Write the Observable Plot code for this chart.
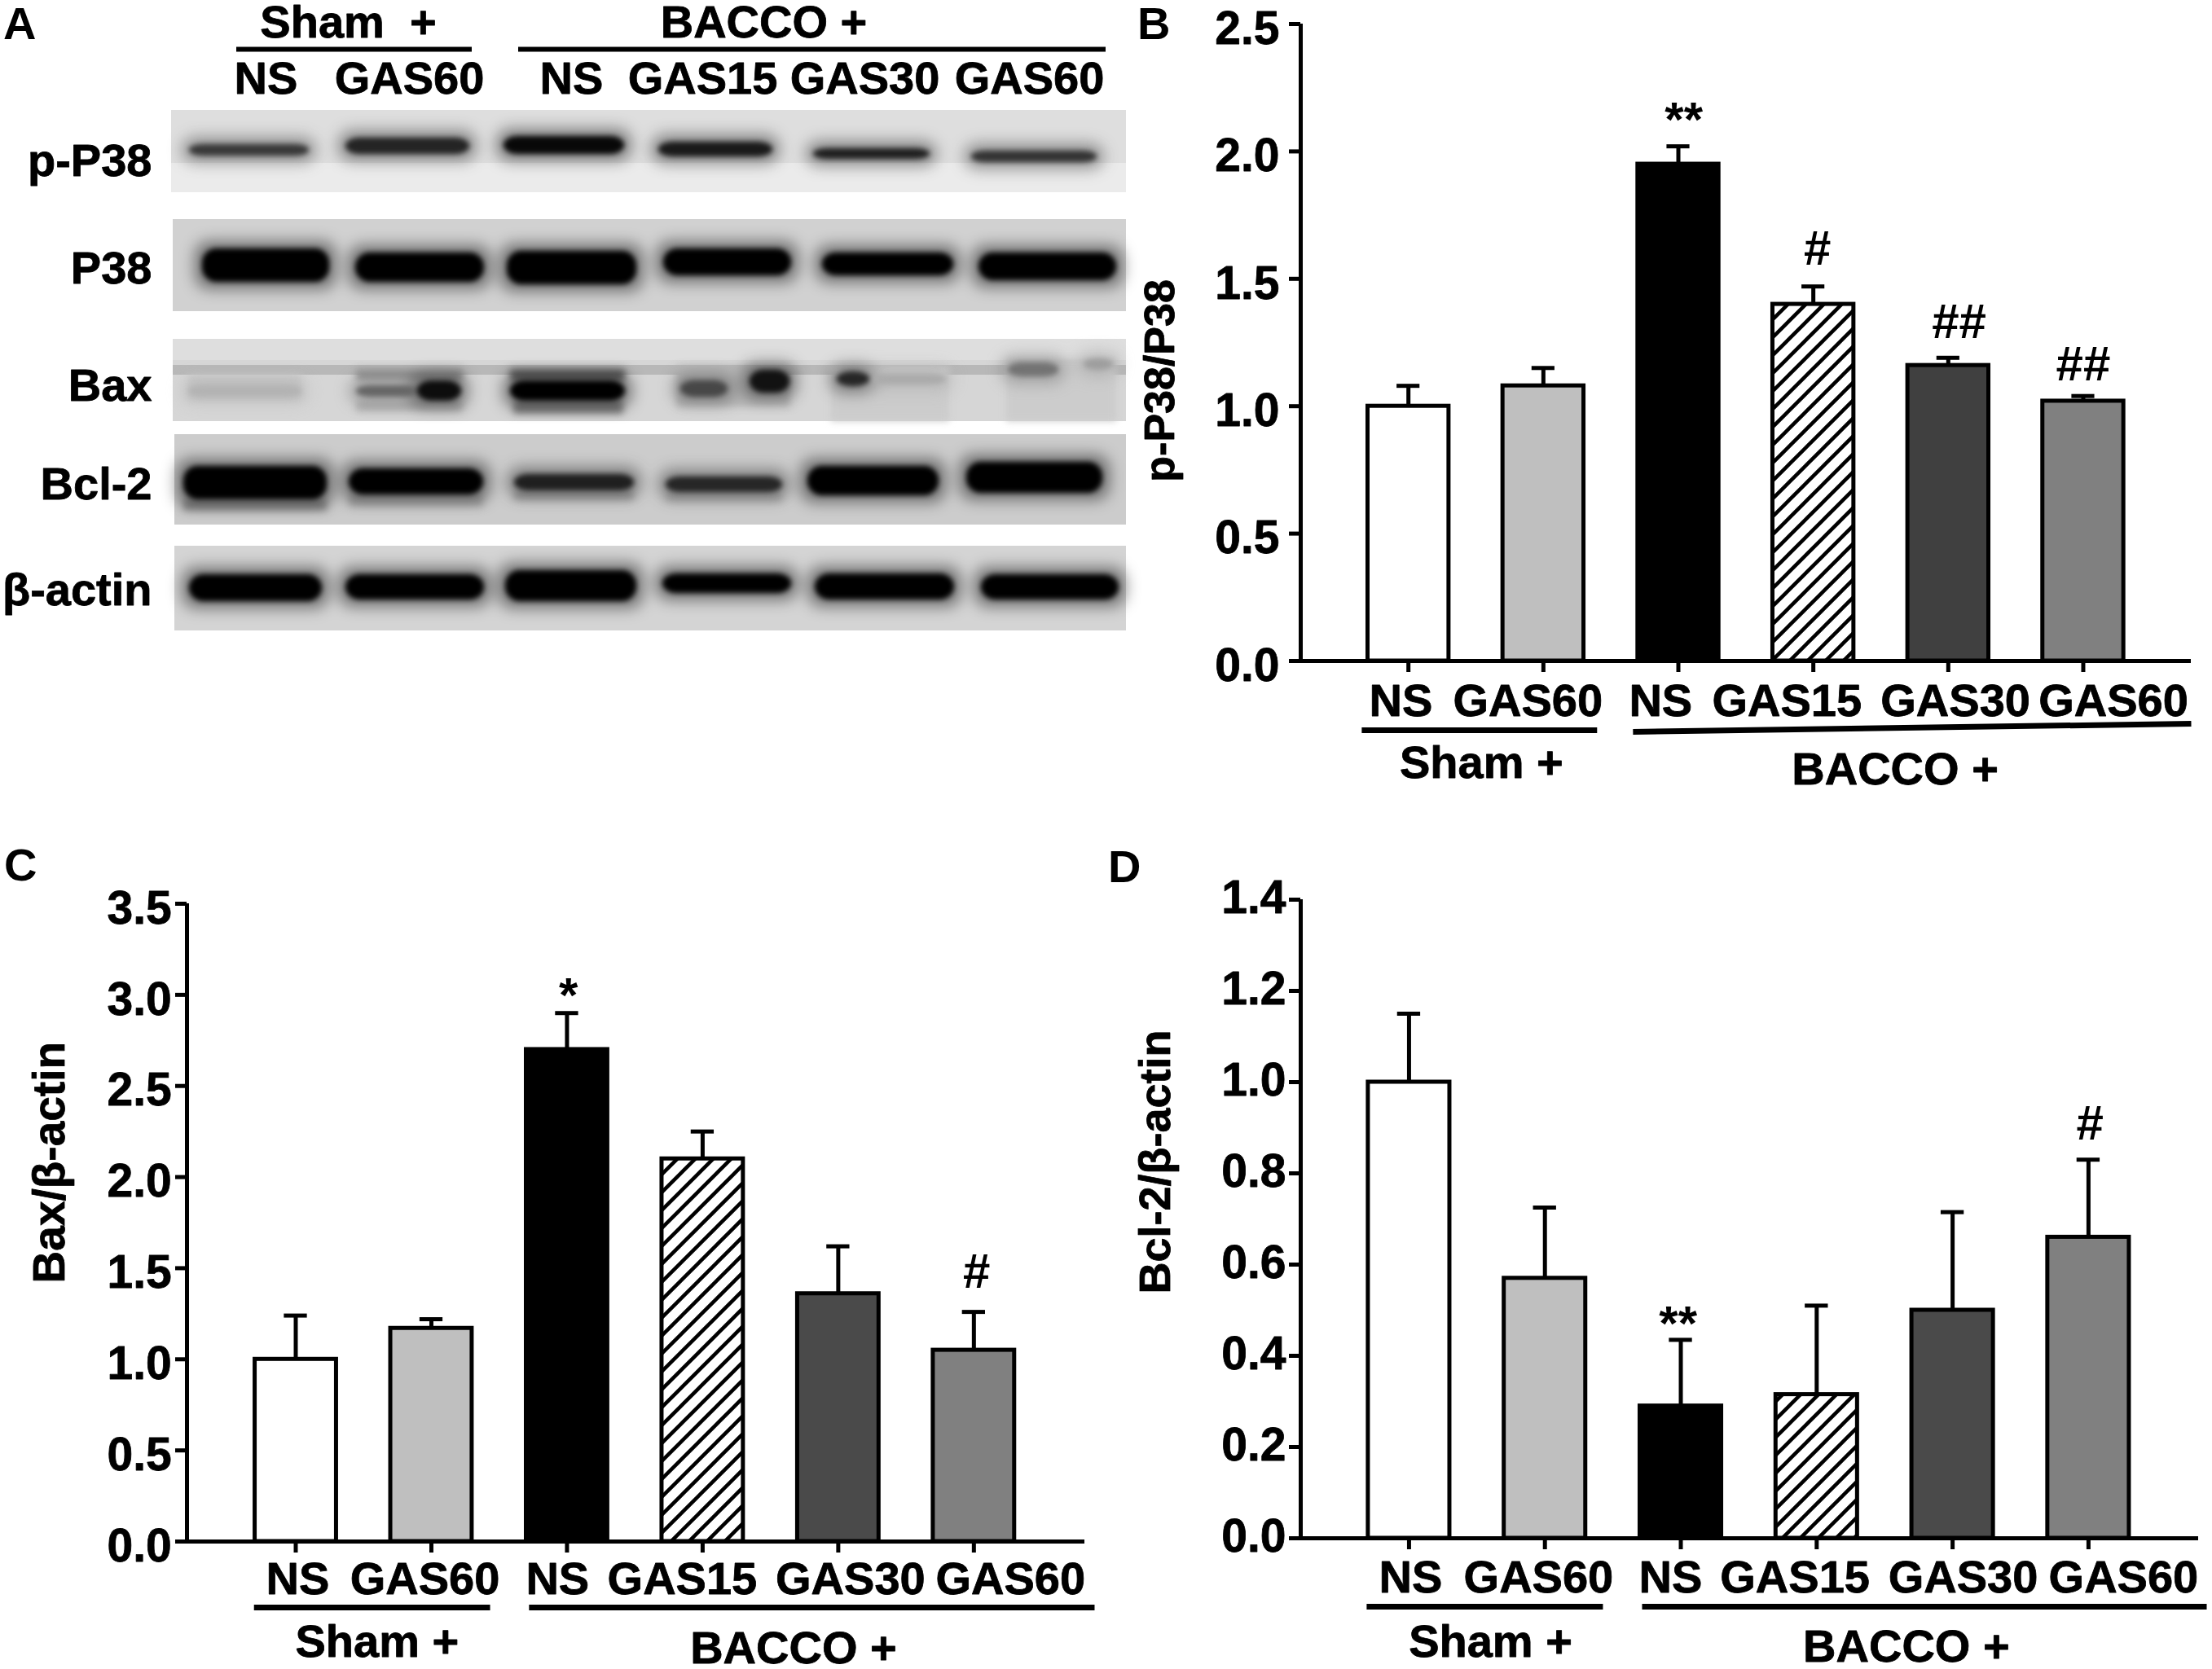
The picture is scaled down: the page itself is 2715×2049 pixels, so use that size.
<!DOCTYPE html>
<html>
<head>
<meta charset="utf-8">
<script src="https://cdn.jsdelivr.net/npm/d3@7"></script>
<script src="https://cdn.jsdelivr.net/npm/@observablehq/plot@0.6"></script>
<style>
  body { margin: 0; background: white; width: 2715px; height: 2049px; position: relative; overflow: hidden; }
  .panel { position: absolute; }
  .letter { position: absolute; font: bold 56px "Liberation Sans"; color: black; line-height: 1; }
</style>
</head>
<body>
<svg width="0" height="0" style="position:absolute">
  <defs>
    <pattern id="hatch" patternUnits="userSpaceOnUse" width="22" height="22">
      <rect width="22" height="22" fill="white"></rect>
      <path d="M-3,3 L3,-3 M0,22 L22,0 M19,25 L25,19" stroke="black" stroke-width="4.5"></path>
    </pattern>
  </defs>
</svg>
<div id="chart"></div>
<script>
// bar groups, same order in panels B, C and D
const treatments = ["NS", "GAS60", "NS", "GAS15", "GAS30", "GAS60"];
const positions = [0, 1, 2, 3, 4, 5];

const pP38Means = [1.0, 1.08, 1.95, 1.40, 1.16, 1.02];
const pP38Tops = [1.08, 1.15, 2.02, 1.47, 1.19, 1.04];
const pP38Ticks = [0, 0.5, 1, 1.5, 2, 2.5];

const baxMeans = [1.0, 1.17, 2.70, 2.10, 1.36, 1.05];
const baxTops = [1.24, 1.22, 2.90, 2.25, 1.62, 1.26];
const baxTicks = [0, 0.5, 1, 1.5, 2, 2.5, 3, 3.5];

const bcl2Means = [1.0, 0.57, 0.29, 0.315, 0.50, 0.66];
const bcl2Tops = [1.15, 0.725, 0.435, 0.51, 0.715, 0.83];
const bcl2Ticks = [0, 0.2, 0.4, 0.6, 0.8, 1, 1.2, 1.4];

// blot bands: left, right, top, bottom on the gel, darkness 0-1
const pP38Bands = [
  [232, 379, 177, 191, 0.78], [424, 576, 169, 189, 0.86], [618, 766, 167, 189, 0.97],
  [808, 948, 174, 192, 0.9], [998, 1141, 182, 195, 0.88], [1192, 1346, 185, 199, 0.8]
];
const p38Bands = [
  [248, 404, 305, 346, 1], [436, 594, 310, 346, 1], [622, 781, 308, 349, 1],
  [814, 971, 305, 338, 1], [1009, 1170, 310, 338, 1], [1201, 1370, 310, 344, 1]
];
const baxBands = [
  [231, 370, 473, 487, 0.3], [437, 512, 473, 487, 0.6], [512, 566, 467, 492, 0.95],
  [626, 767, 467, 492, 1], [835, 893, 467, 487, 0.72], [920, 969, 454, 482, 0.93],
  [1027, 1067, 456, 474, 0.85], [1071, 1161, 459, 472, 0.33],
  [1237, 1299, 445, 462, 0.55], [1330, 1366, 440, 454, 0.38]
];
const bcl2Bands = [
  [225, 401, 572, 613, 1], [428, 593, 575, 607, 1], [631, 778, 582, 602, 0.88],
  [817, 960, 585, 604, 0.85], [991, 1152, 572, 608, 1], [1186, 1353, 567, 605, 1]
];
const actinBands = [
  [232, 395, 705, 738, 1], [424, 594, 705, 736, 1], [620, 781, 700, 738, 1],
  [813, 971, 704, 728, 1], [1000, 1171, 704, 736, 1], [1204, 1373, 705, 736, 1]
];
// fainter smears around the Bax and Bcl-2 lanes
const blotSmears = [
  [231, 370, 460, 492, 0.22], [437, 568, 453, 467, 0.42], [437, 568, 492, 505, 0.3],
  [626, 767, 453, 467, 0.6], [630, 765, 492, 508, 0.48], [830, 970, 450, 500, 0.28],
  [1020, 1165, 450, 517, 0.2], [1235, 1370, 440, 517, 0.2],
  [225, 401, 613, 627, 0.42], [428, 593, 607, 622, 0.32], [631, 778, 602, 614, 0.35], [817, 960, 604, 616, 0.3]
];
// gel strips: left, right, top, bottom, background darkness
const blotStrips = [
  [210, 1382, 135, 200, 0.13], [210, 1382, 200, 236, 0.08], [212, 1382, 269, 382, 0.18],
  [212, 1382, 416, 442, 0.13], [212, 1382, 442, 517, 0.16], [212, 1382, 448, 460, 0.28],
  [214, 1382, 533, 644, 0.2], [214, 1382, 670, 774, 0.17]
];
const blotNames = ["p-P38", "P38", "Bax", "Bcl-2", "β-actin"];
const blotNameY = [198, 330, 474, 595, 725];

const font = "Liberation Sans";
const barFills = ["white", "#bfbfbf", "black", "url(#hatch)", "#404040", "#808080"];

function asBand(b) {
  return {x1: b[0], x2: b[1], y1: b[2], y2: b[3], dark: b[4]};
}

function drawBlot() {
  const bands = [...pP38Bands, ...p38Bands, ...baxBands, ...bcl2Bands, ...actinBands].map(asBand);
  const names = blotNames.map((t, i) => ({t, y: blotNameY[i]}));
  const lanes = [
    {t: "NS", x: 326}, {t: "GAS60", x: 502}, {t: "NS", x: 701},
    {t: "GAS15", x: 862}, {t: "GAS30", x: 1061}, {t: "GAS60", x: 1263}
  ];
  const heads = [{t: "Sham  +", x: 427, y: 28}, {t: "BACCO +", x: 937, y: 28}];
  const lines = [{x1: 290, x2: 579}, {x1: 636, x2: 1357}];
  const bold = {fontSize: 56, fontWeight: "bold", stroke: "black", strokeWidth: 0.8, fill: "black"};
  return Plot.plot({
    width: 1400,
    height: 800,
    margin: 0,
    style: {background: "transparent", overflow: "visible", fontFamily: font},
    x: {domain: [0, 1400], range: [0, 1400], axis: null},
    y: {domain: [0, 800], range: [0, 800], axis: null},
    color: {type: "linear", domain: [0, 1], range: ["#ffffff", "#000000"]},
    marks: [
      Plot.rect(blotStrips.map(asBand), {x1: "x1", x2: "x2", y1: "y1", y2: "y2", fill: "dark"}),
      Plot.rect(blotSmears.map(asBand), {x1: "x1", x2: "x2", y1: "y1", y2: "y2", fill: "dark",
        imageFilter: "blur(4px)"}),
      Plot.rect(bands, {x1: "x1", x2: "x2", y1: "y1", y2: "y2", fill: "dark", rx: 18,
        inset: -9, fillOpacity: 0.45, imageFilter: "blur(9px)"}),
      Plot.rect(bands, {x1: "x1", x2: "x2", y1: "y1", y2: "y2", fill: "dark", rx: 18,
        imageFilter: "blur(3px)"}),
      Plot.text(names, {x: () => 186, y: "y", text: "t", textAnchor: "end", ...bold}),
      Plot.text(lanes, {x: "x", y: () => 97, text: "t", ...bold}),
      Plot.text(heads, {x: "x", y: "y", text: "t", ...bold}),
      Plot.ruleY(lines, {x1: "x1", x2: "x2", y: () => 60, strokeWidth: 6, stroke: "black"})
    ]
  });
}

function drawBars(p) {
  const bars = positions.map(i => ({
    pos: i,
    label: treatments[i],
    mean: p.means[i],
    top: p.tops[i],
    fill: barFills[i] === "#404040" ? p.darkBar : barFills[i]
  }));
  const bold = {fontSize: 56, fontWeight: "bold", fill: "black", stroke: "black", strokeWidth: 0.8};
  return Plot.plot({
    width: p.width,
    height: p.height,
    marginLeft: p.marginLeft,
    marginRight: p.marginRight,
    marginTop: p.marginTop,
    marginBottom: p.marginBottom,
    style: {background: "transparent", overflow: "visible", fontFamily: font},
    x: {domain: p.xDomain, axis: null},
    y: {domain: p.yDomain, axis: null},
    color: {type: "identity"},
    marks: [
      Plot.ruleX(bars, {x: "pos", y1: "mean", y2: "top", strokeWidth: 5, stroke: "black"}),
      Plot.ruleY(bars, {y: "top", x1: d => d.pos - 0.085, x2: d => d.pos + 0.085, strokeWidth: 5, stroke: "black"}),
      Plot.rect(bars, {x1: d => d.pos - 0.3, x2: d => d.pos + 0.3, y1: () => 0, y2: "mean",
        fill: "fill", stroke: "black", strokeWidth: 5}),
      Plot.ruleX([p.xDomain[0]], {strokeWidth: 5, stroke: "black"}),
      Plot.ruleY([0], {strokeWidth: 5, stroke: "black"}),
      Plot.axisY(p.ticks, {anchor: "left", tickSize: 14, strokeWidth: 5, stroke: "black",
        tickFormat: () => "", label: null}),
      Plot.axisX(positions, {anchor: "bottom", tickSize: 14, strokeWidth: 5, stroke: "black",
        tickFormat: () => "", label: null}),
      Plot.text(p.ticks, {x: () => p.tickLabelX, y: d => d, text: d => d.toFixed(1), textAnchor: "end",
        dy: p.tickDy, ...bold, fontSize: 57}),
      Plot.text(bars, {x: (d, i) => p.labelX[i], y: () => p.labelY, text: "label", ...bold}),
      Plot.link(p.lines, {x1: "x1", x2: "x2", y1: "y1", y2: "y2", strokeWidth: 7, stroke: "black"}),
      Plot.text(p.heads, {x: "x", y: "y", text: "t", ...bold}),
      Plot.text(p.marks, {x: "x", y: "y", text: "t", fontSize: 60, fill: "black", fontWeight: "bold"}),
      Plot.text(p.title, {x: "x", y: "y", text: "t", rotate: -90, ...bold, fontSize: p.titleSize})
    ]
  });
}

const panels = [
  {
    left: 1380, top: 0, width: 1335, height: 1000,
    marginLeft: 216, marginRight: 26, marginTop: 29, marginBottom: 189,
    xDomain: [-0.798, 5.80], yDomain: [0, 2.5], darkBar: "#404040",
    means: pP38Means, tops: pP38Tops, ticks: pP38Ticks, tickLabelX: -0.955, tickDy: 6,
    labelX: [-0.056, 0.885, 1.869, 2.804, 4.053, 5.224], labelY: -0.157,
    lines: [{x1: -0.346, x2: 1.398, y1: -0.272, y2: -0.272}, {x1: 1.664, x2: 5.80, y1: -0.278, y2: -0.246}],
    heads: [{t: "Sham +", x: 0.541, y: -0.403}, {t: "BACCO +", x: 3.606, y: -0.428}],
    marks: [{t: "**", x: 2.04, y: 2.123}, {t: "#", x: 3.03, y: 1.618}, {t: "##", x: 4.08, y: 1.33}, {t: "##", x: 5, y: 1.164}],
    title: [{t: "p-P38/P38", x: -1.84, y: 1.10}], titleSize: 52
  },
  {
    left: 0, top: 1000, width: 1360, height: 1049,
    marginLeft: 229, marginRight: 29, marginTop: 109, marginBottom: 157,
    xDomain: [-0.802, 5.818], yDomain: [0, 3.5], darkBar: "#4a4a4a",
    means: baxMeans, tops: baxTops, ticks: baxTicks, tickLabelX: -0.915, tickDy: 6,
    labelX: [0.015, 0.952, 1.93, 2.85, 4.09, 5.27], labelY: -0.21,
    lines: [{x1: -0.308, x2: 1.433, y1: -0.362, y2: -0.362}, {x1: 1.72, x2: 5.89, y1: -0.362, y2: -0.362}],
    heads: [{t: "Sham +", x: 0.6, y: -0.554}, {t: "BACCO +", x: 3.67, y: -0.586}],
    marks: [{t: "*", x: 2.01, y: 2.995}, {t: "#", x: 5.02, y: 1.48}],
    title: [{t: "Bax/β-actin", x: -1.81, y: 2.08}], titleSize: 55
  },
  {
    left: 1360, top: 1000, width: 1355, height: 1049,
    marginLeft: 236, marginRight: 17, marginTop: 104, marginBottom: 161,
    xDomain: [-0.797, 5.81], yDomain: [0, 1.4], darkBar: "#4a4a4a",
    means: bcl2Means, tops: bcl2Tops, ticks: bcl2Ticks, tickLabelX: -0.905, tickDy: -2,
    labelX: [0.012, 0.953, 1.924, 2.84, 4.077, 5.258], labelY: -0.0875,
    lines: [{x1: -0.312, x2: 1.427, y1: -0.15, y2: -0.15}, {x1: 1.715, x2: 5.87, y1: -0.15, y2: -0.15}],
    heads: [{t: "Sham +", x: 0.6, y: -0.227}, {t: "BACCO +", x: 3.66, y: -0.239}],
    marks: [{t: "**", x: 1.98, y: 0.47}, {t: "#", x: 5.01, y: 0.909}],
    title: [{t: "Bcl-2/β-actin", x: -1.86, y: 0.825}], titleSize: 54
  }
];

const chart = document.querySelector("#chart");

function place(node, left, top) {
  const div = document.createElement("div");
  div.className = "panel";
  div.style.left = left + "px";
  div.style.top = top + "px";
  div.append(node);
  chart.append(div);
}

place(drawBlot(), 0, 0);
panels.forEach(p => place(drawBars(p), p.left, p.top));

[["A", 4, 1], ["B", 1396, 1], ["C", 5, 1034], ["D", 1360, 1036]].forEach(([t, x, y]) => {
  const el = document.createElement("div");
  el.className = "letter";
  el.textContent = t;
  el.style.left = x + "px";
  el.style.top = y + "px";
  chart.append(el);
});
</script>
</body>
</html>
